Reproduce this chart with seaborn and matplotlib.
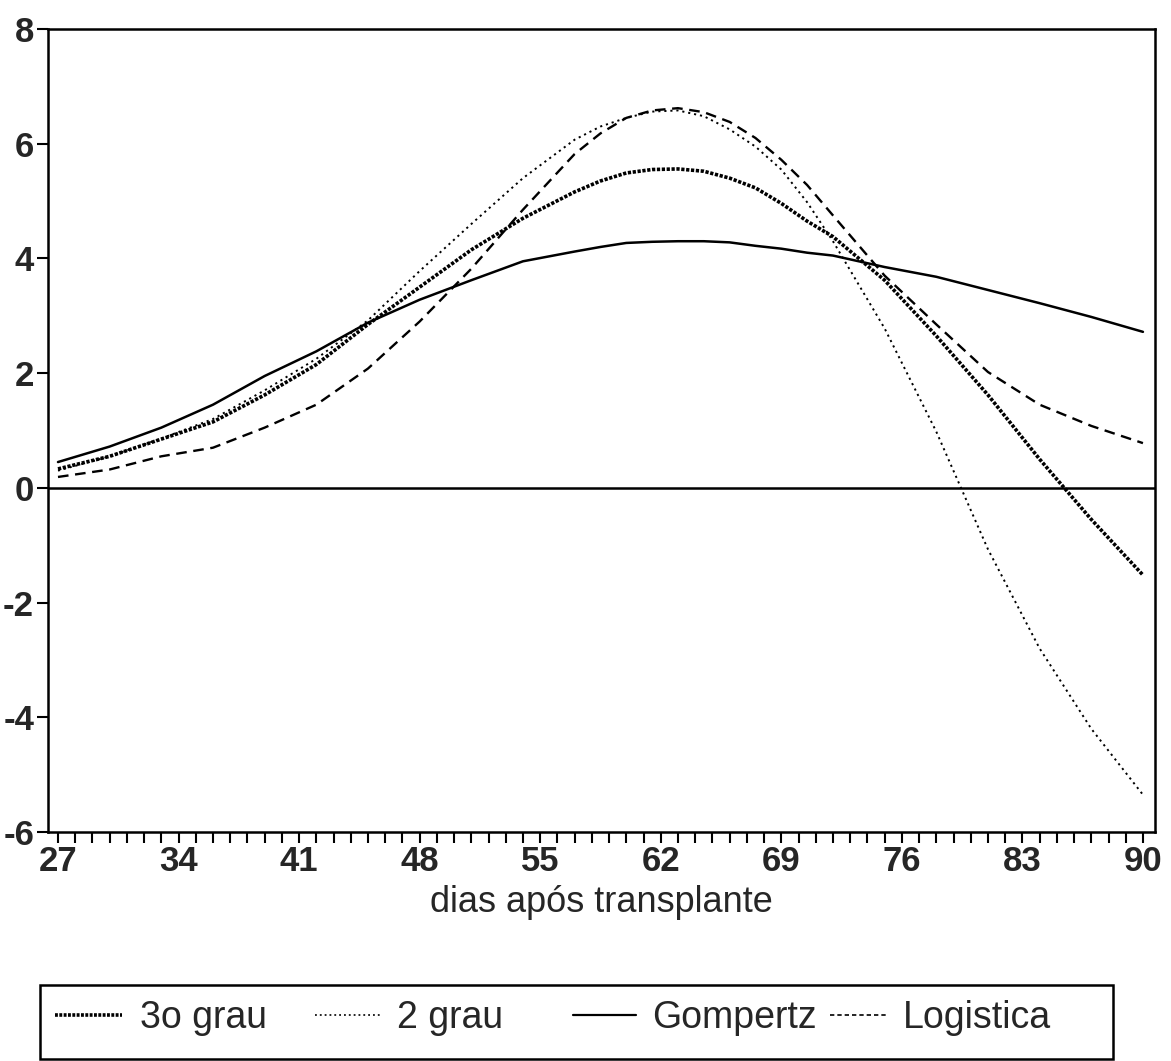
import matplotlib
matplotlib.use("Agg")
import matplotlib.pyplot as plt
from matplotlib.lines import Line2D
from matplotlib.patches import Rectangle
from matplotlib.ticker import FixedLocator, MultipleLocator, FuncFormatter
import pandas as pd
import seaborn as sns

# Days after transplant at which the fitted curves are evaluated
dias = [27, 30, 33, 36, 39, 42, 45, 48, 51, 54, 57, 58.5, 60, 61.5, 63, 64.5, 66,
        67.5, 69, 70.5, 72, 75, 78, 81, 84, 87, 90]

# Fitted curves
terceiro_grau = [0.33, 0.55, 0.85, 1.15, 1.62, 2.15, 2.85, 3.50, 4.15, 4.70, 5.16, 5.35,
                 5.49, 5.55, 5.56, 5.52, 5.40, 5.23, 4.96, 4.65, 4.38, 3.62, 2.65,
                 1.62, 0.50, -0.55, -1.52]
segundo_grau = [0.30, 0.55, 0.86, 1.20, 1.70, 2.25, 2.92, 3.78, 4.60, 5.40, 6.07, 6.30,
                6.45, 6.56, 6.58, 6.48, 6.25, 5.95, 5.55, 4.98, 4.30, 2.78, 0.98,
                -1.07, -2.80, -4.20, -5.35]
gompertz = [0.45, 0.72, 1.05, 1.45, 1.95, 2.38, 2.88, 3.28, 3.62, 3.95, 4.12, 4.20,
            4.27, 4.29, 4.30, 4.30, 4.28, 4.22, 4.17, 4.10, 4.05, 3.85, 3.68, 3.45,
            3.22, 2.98, 2.72]
logistica = [0.19, 0.32, 0.55, 0.70, 1.05, 1.45, 2.08, 2.90, 3.82, 4.85, 5.82, 6.18,
             6.45, 6.58, 6.62, 6.55, 6.38, 6.10, 5.72, 5.28, 4.75, 3.70, 2.85, 2.02,
             1.45, 1.08, 0.78]

nomes = ["3o grau", "2 grau", "Gompertz", "Logistica"]
series = [terceiro_grau, segundo_grau, gompertz, logistica]

df = pd.DataFrame({"dia": dias})
for nome, valores in zip(nomes, series):
    df[nome] = valores

estilos = {
    "3o grau": dict(lw=2.6, ls=(0, (0.9, 0.45))),
    "2 grau": dict(lw=1.4, ls=(0, (1.1, 2.0))),
    "Gompertz": dict(lw=1.8, ls="-"),
    "Logistica": dict(lw=1.7, ls=(0, (4.5, 2.8))),
}

sns.set_style("ticks")
plt.rcParams["font.family"] = ["Liberation Sans", "DejaVu Sans"]
plt.rcParams["axes.unicode_minus"] = False

W, H = 1171, 1061
fig = plt.figure(figsize=(W / 100, H / 100), dpi=100)
ax = fig.add_axes([48 / W, 1 - 832 / H, (1155 - 48) / W, (832 - 29) / H])

for nome in nomes:
    st = estilos[nome]
    sns.lineplot(data=df, x="dia", y=nome, ax=ax, color="black",
                 linewidth=st["lw"], linestyle=st["ls"])

ax.axhline(0, color="black", lw=1.8, zorder=1)

ax.set_xlim(26.42, 90.7)
ax.set_ylim(-6, 8)
ax.xaxis.set_major_locator(FixedLocator(list(range(27, 91, 7))))
ax.xaxis.set_minor_locator(MultipleLocator(1))
ax.set_yticks(list(range(-6, 9, 2)))
ax.yaxis.set_major_formatter(FuncFormatter(lambda v, p: f"{int(v)}"))
ax.tick_params(axis="both", which="both", direction="out", length=8, width=1.5,
               color="black")
ax.tick_params(axis="x", which="major", pad=1.5, labelsize=25)
ax.tick_params(axis="y", which="major", pad=2, labelsize=25)
for lbl in ax.get_xticklabels() + ax.get_yticklabels():
    lbl.set_fontweight("bold")

for sp in ax.spines.values():
    sp.set_visible(True)
    sp.set_color("black")
    sp.set_linewidth(1.8)

ax.set_xlabel("")
ax.set_ylabel("")
fig.text(601 / W, 1 - 912 / H, "dias após transplante", ha="center", va="baseline",
         fontsize=26)

# Legend row inside a box below the x axis: one entry per slot
legend_lw = {"3o grau": 2.6, "2 grau": 1.2, "Gompertz": 1.6, "Logistica": 1.2}
legend_ls = {"3o grau": (0, (0.8, 0.4)), "2 grau": (0, (1.1, 1.8)), "Gompertz": "-",
             "Logistica": (0, (2.6, 1.8))}
slots = [(55, 1.79, 0.48), (315, 1.79, 0.40), (573, 1.68, 0.43), (830, 1.55, 0.40)]
for nome, (x0, hl, pad) in zip(nomes, slots):
    h = Line2D([], [], color="black", lw=legend_lw[nome], linestyle=legend_ls[nome])
    fig.legend([h], [nome], loc="center left",
               bbox_to_anchor=(x0 / W, 1 - 1018 / H), frameon=False, fontsize=27,
               handlelength=hl, handletextpad=pad, borderpad=0, borderaxespad=0)
fig.patches.append(Rectangle((40 / W, 1 - 1059 / H), (1113 - 40) / W, (1059 - 985) / H,
                             transform=fig.transFigure, fill=False, edgecolor="black",
                             lw=1.8))

fig.savefig("out.png", dpi=100)
